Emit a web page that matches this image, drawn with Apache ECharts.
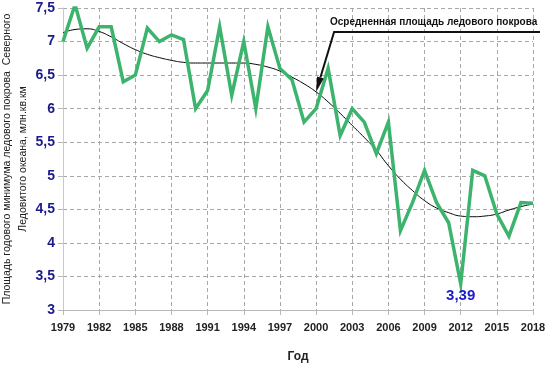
<!DOCTYPE html>
<html>
<head>
<meta charset="utf-8">
<script src="https://cdn.jsdelivr.net/npm/echarts@6/dist/echarts.min.js"></script>
<style>html,body{margin:0;padding:0;background:#fff}#c{width:548px;height:366px}</style>
</head>
<body>
<div id="c"></div>
<script>
const years = [];
for (let y = 1979; y <= 2018; y++) years.push(String(y));
const iceMin = [7.0, 7.55, 6.9, 7.22, 7.22, 6.4, 6.5, 7.2, 7.0, 7.1, 7.03, 6.0, 6.27, 7.22, 6.2, 7.0, 6.0, 7.22, 6.6, 6.43, 5.8, 6.0, 6.6, 5.6, 6.0, 5.8, 5.33, 5.8, 4.18, 4.6, 5.08, 4.6, 4.3, 3.39, 5.08, 5.0, 4.43, 4.1, 4.6, 4.59];
const trend = [7.13, 7.18, 7.19, 7.15, 7.07, 6.97, 6.88, 6.81, 6.76, 6.72, 6.69, 6.68, 6.68, 6.68, 6.68, 6.68, 6.66, 6.62, 6.56, 6.47, 6.37, 6.25, 6.1, 5.93, 5.75, 5.57, 5.38, 5.15, 4.95, 4.78, 4.63, 4.52, 4.45, 4.4, 4.39, 4.4, 4.43, 4.49, 4.54, 4.58];
const yTickLabels = ['3', '3,5', '4', '4,5', '5', '5,5', '6', '6,5', '7', '7,5'];
const labelYear = '2012';
const labelText = '3,39';
const trendYear = '2000';
const annotationText = 'Осредненная площадь ледового покрова';
const yName = 'Площадь годового минимума ледового покрова  Северного\nЛедовитого океана, млн.кв.км';
const xName = 'Год';

const chart = echarts.init(document.getElementById('c'));
const mainData = iceMin.map((v, i) => years[i] === labelYear
  ? { value: v, label: { show: true, position: 'bottom', distance: 5, formatter: labelText,
      color: '#1a1ad0', fontSize: 15, fontWeight: 'bold', fontFamily: 'Liberation Sans' } }
  : v);

chart.setOption({
  animation: false,
  grid: { left: 63, right: 15, top: 8, bottom: 56, containLabel: false, outerBoundsMode: 'none' },
  xAxis: {
    type: 'category', data: years, boundaryGap: false,
    name: xName, nameLocation: 'middle', nameGap: 41, nameMoveOverlap: false,
    nameTextStyle: { color: '#222', fontSize: 12, fontFamily: 'Liberation Sans', fontWeight: 'bold' },
    axisLine: { lineStyle: { color: '#b8b8b8', width: 1 } },
    axisTick: { interval: 2, length: 5, lineStyle: { color: '#b8b8b8' } },
    axisLabel: { interval: 2, margin: 12, color: '#222', fontSize: 11, fontWeight: 'bold', fontFamily: 'Liberation Sans' },
    splitLine: { show: true, interval: 2, lineStyle: { color: '#a8a8a8', type: [4, 3], width: 1 } }
  },
  yAxis: {
    type: 'value', min: 3, max: 7.5, interval: 0.5,
    name: yName, nameLocation: 'middle', nameGap: 32, nameRotate: 90, nameMoveOverlap: false,
    nameTextStyle: { color: '#222', fontSize: 10.5, lineHeight: 16, fontFamily: 'Liberation Sans' },
    axisLine: { show: true, lineStyle: { color: '#c8c8c8', width: 1 } },
    axisTick: { show: true, length: 5, lineStyle: { color: '#b8b8b8' } },
    axisLabel: { margin: 8, color: '#1a1a8c', fontSize: 14, fontWeight: 'bold', fontFamily: 'Liberation Sans',
      formatter: (v, i) => yTickLabels[i] },
    splitLine: { show: true, lineStyle: { color: '#a8a8a8', type: [4, 3], width: 1 } }
  },
  series: [
    { type: 'line', data: trend, smooth: true, showSymbol: false, z: 2,
      lineStyle: { color: '#000', width: 1 } },
    { type: 'line', data: mainData, showSymbol: true, symbol: 'circle', symbolSize: 0, z: 3,
      itemStyle: { color: '#3cb46e' },
      lineStyle: { color: '#3cb46e', width: 3.5, join: 'miter' } }
  ]
});

const tip = chart.convertToPixel({ gridIndex: 0 }, [years.indexOf(trendYear), trend[years.indexOf(trendYear)]]);
const elbow = [tip[0] + 18, 32];
const lineEnd = [540, 32];
const dx = tip[0] - elbow[0], dy = tip[1] - elbow[1];
const len = Math.sqrt(dx * dx + dy * dy);
const ux = dx / len, uy = dy / len;
const hl = 15, hw = 3.5;
const base = [tip[0] - ux * hl, tip[1] - uy * hl];
chart.setOption({
  graphic: [
    { type: 'polyline', shape: { points: [lineEnd, elbow, base] }, style: { stroke: '#111', lineWidth: 2, fill: null }, z: 10 },
    { type: 'polygon', shape: { points: [tip, [base[0] - uy * hw, base[1] + ux * hw], [base[0] + uy * hw, base[1] - ux * hw]] },
      style: { fill: '#111' }, z: 10 },
    { type: 'text', x: 330, y: 17, style: { text: annotationText, fill: '#111', font: 'bold 10px "Liberation Sans"' }, z: 10 }
  ]
});
</script>
</body>
</html>
